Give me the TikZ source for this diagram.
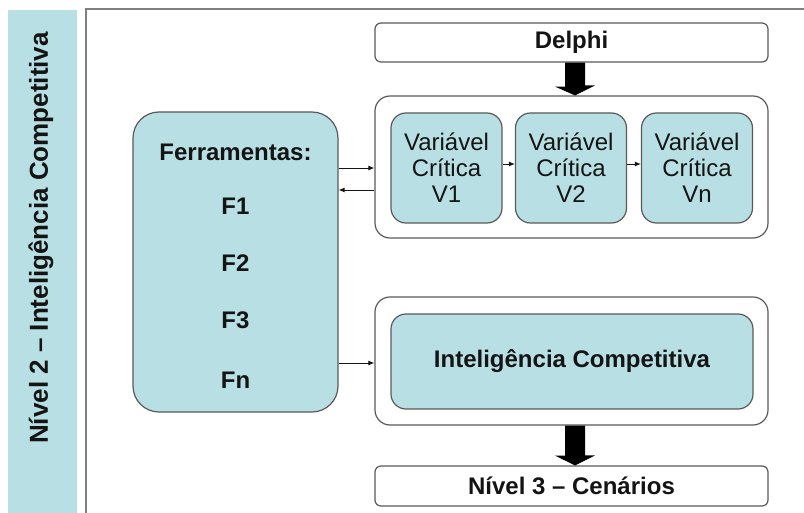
\documentclass[tikz,border=0pt]{standalone}
\usepackage{fontspec}
\setmainfont{Liberation Sans}
\usetikzlibrary{arrows.meta,calc}
\definecolor{tealfill}{RGB}{184,224,228}
\definecolor{boxline}{RGB}{90,90,90}
\definecolor{framegray}{RGB}{128,128,128}
\definecolor{inkdark}{RGB}{20,20,20}
\tikzset{
  x=1pt, y=-1pt,
  txt/.style={text=inkdark, font=\fontsize{24}{26}\selectfont\bfseries},
  plainbox/.style={draw=boxline, line width=1.2pt, fill=white, rounded corners=6pt, inner sep=0pt},
  groupbox/.style={draw=boxline, line width=1.2pt, fill=white, rounded corners=15pt, inner sep=0pt},
  tealbox/.style={draw=boxline, line width=1.2pt, fill=tealfill, rounded corners=15pt, inner sep=0pt},
  varbox/.style={tealbox, minimum width=111pt, minimum height=110pt, align=center,
    text=inkdark, font=\fontsize{24}{26}\selectfont},
  link/.style={-{Latex[length=6pt,width=5pt]}, line width=0.9pt, draw=inkdark},
  fatarrow/.style={fill=black}
}
\begin{document}
\begin{tikzpicture}
\useasboundingbox (0,0) rectangle (804,513);
\fill[white] (0,0) rectangle (804,513);

% side band with the level title
\fill[tealfill] (8,10) rectangle (77,513);
\node[txt, font=\fontsize{26}{28}\selectfont\bfseries, rotate=90] (title) at (41,238)
  {Nível 2 – Inteligência Competitiva};

% frame of the level
\draw[framegray, line width=2pt] (86,513) -- (86,9) -- (804,9);

% Delphi input
\node[plainbox, minimum width=393pt, minimum height=39pt, txt] (delphi) at (571.5,42.5) {Delphi};

% critical variables group
\node[groupbox, minimum width=393pt, minimum height=142pt] (grp1) at (571.5,167) {};
\node[varbox] (v1) at (446.5,168) {Variável\\Crítica\\V1};
\node[varbox] (v2) at (571,168) {Variável\\Crítica\\V2};
\node[varbox] (vn) at (697,168) {Variável\\Crítica\\Vn};
\draw[link] (v1.east |- 0,164) -- (v2.west |- 0,164);
\draw[link] (v2.east |- 0,164) -- (vn.west |- 0,164);

% tools
\node[tealbox, rounded corners=26pt, minimum width=205pt, minimum height=300pt] (ferr) at (235.5,262) {};
\node[txt] (ferrt) at (235.5,152) {Ferramentas:};
\node[txt] (f1) at (235.5,206) {F1};
\node[txt] (f2) at (235.5,263) {F2};
\node[txt] (f3) at (235.5,320) {F3};
\node[txt] (fn) at (235.5,380) {Fn};

% competitive intelligence group
\node[groupbox, minimum width=393pt, minimum height=128pt] (grp2) at (571.5,361) {};
\node[tealbox, minimum width=362pt, minimum height=95pt, txt] (ic) at (572,361.5) {Inteligência Competitiva};

% output
\node[plainbox, minimum width=393pt, minimum height=40pt, txt] (nivel3) at (571.5,486) {Nível 3 – Cenários};

% links between tools and groups
\draw[link] (ferr.east |- 0,168) -- (grp1.west |- 0,168);
\draw[link] (grp1.west |- 0,190) -- (ferr.east |- 0,190);
\draw[link] (ferr.east |- 0,363) -- (grp2.west |- 0,363);

% block arrows
\fill[fatarrow] ($(delphi.south)+(-6.5,0)$) -- ++(0,24) -- ++(-10,0) -- ($(grp1.north)+(3.5,0)$)
  -- ++(20,-10) -- ++(-10,0) -- ($(delphi.south)+(13.5,0)$) -- cycle;
\fill[fatarrow] ($(grp2.south)+(-6.5,0)$) -- ++(0,30) -- ++(-10,0) -- ($(nivel3.north)+(3.5,0)$)
  -- ++(20,-10) -- ++(-10,0) -- ($(grp2.south)+(13.5,0)$) -- cycle;
\end{tikzpicture}
\end{document}
